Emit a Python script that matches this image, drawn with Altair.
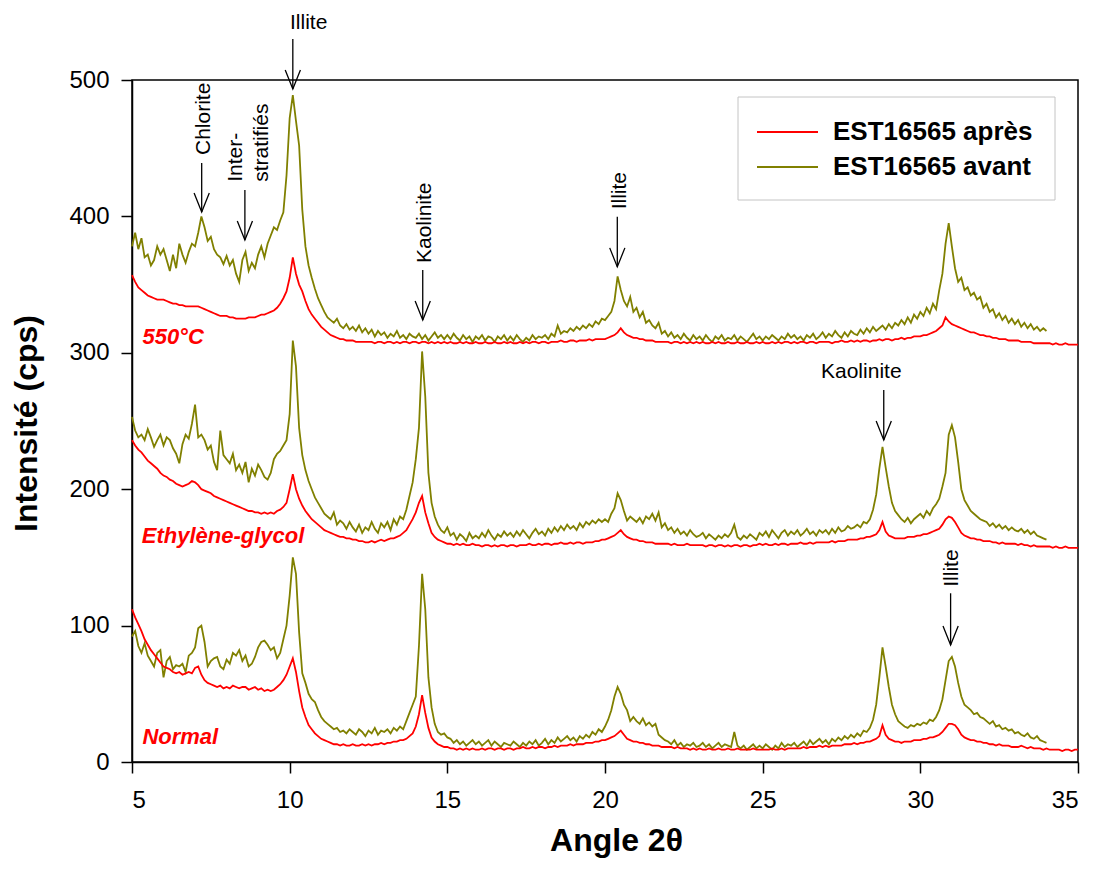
import altair as alt
import pandas as pd

# ---------------- data ----------------
X_START = 5.0
X_STEP = 0.1   # sampling step of the typed values below (one row = one degree)

SAMPLES = ["EST16565 après", "EST16565 avant"]
SAMPLE_COLORS = ["#FF0000", "#808000"]
TREATMENTS = ["Normal", "Ethylène-glycol", "550°C"]

apres_normal = [
    112, 106, 101, 96, 90, 86, 82, 79, 76, 73,
    70, 69, 68, 66, 65, 66, 64, 65, 66, 65,
    69, 70, 64, 60, 58, 57, 56, 55, 56, 54,
    55, 54, 56, 55, 54, 55, 55, 53, 54, 55,
    53, 54, 52, 53, 52, 53, 55, 57, 60, 64,
    70, 76, 66, 52, 40, 33, 27, 24, 21, 19,
    17, 16, 15, 14, 13, 13, 12, 13, 12, 12,
    13, 12, 12, 13, 12, 13, 12, 13, 13, 14,
    13, 14, 14, 15, 15, 16, 16, 17, 19, 21,
    26, 35, 49, 36, 25, 18, 15, 13, 12, 11,
    11, 10, 10, 9, 10, 9, 10, 9, 10, 9,
    9, 10, 9, 10, 10, 9, 10, 10, 9, 10,
    10, 9, 10, 10, 11, 10, 10, 11, 10, 11,
    11, 10, 11, 11, 12, 11, 12, 12, 12, 13,
    12, 13, 13, 13, 14, 14, 14, 15, 15, 16,
    16, 17, 18, 19, 21, 23, 20, 17, 16, 15,
    15, 14, 14, 13, 13, 12, 12, 12, 11, 11,
    11, 11, 10, 11, 10, 10, 10, 9, 10, 9,
    10, 9, 9, 10, 9, 9, 10, 9, 9, 10,
    9, 9, 10, 9, 9, 9, 9, 10, 9, 9,
    9, 9, 9, 10, 9, 9, 10, 9, 10, 10,
    10, 10, 10, 11, 10, 11, 11, 11, 12, 11,
    12, 11, 12, 12, 12, 12, 13, 13, 13, 14,
    13, 14, 14, 15, 15, 16, 17, 19, 27, 20,
    17, 16, 15, 15, 14, 15, 15, 15, 16, 16,
    16, 17, 17, 18, 18, 19, 20, 22, 25, 28,
    28, 27, 24, 20, 18, 17, 16, 16, 15, 15,
    14, 14, 13, 13, 12, 13, 12, 12, 12, 11,
    11, 11, 12, 11, 10, 11, 10, 10, 10, 9,
    10, 9, 9, 9, 9, 8, 9, 9, 8, 9,
    9,
]

avant_normal = [
    92, 96, 85, 80, 87, 78, 74, 70, 80, 82,
    62, 74, 77, 68, 71, 70, 72, 66, 78, 80,
    84, 98, 100, 88, 70, 74, 76, 77, 70, 68,
    75, 72, 80, 78, 82, 74, 78, 70, 72, 77,
    84, 88, 89, 86, 82, 84, 76, 80, 90, 100,
    122, 150, 138, 95, 65, 58, 50, 46, 44, 38,
    33, 30, 28, 26, 24, 25, 22, 23, 21, 24,
    22, 20, 24, 22, 19, 23, 21, 25, 20, 23,
    22, 24, 21, 25, 23, 26, 24, 30, 36, 42,
    48, 85, 138, 112, 62, 40, 28, 22, 20, 21,
    18, 17, 14, 16, 13, 15, 12, 14, 16, 13,
    15, 12, 14, 16, 12, 15, 13, 11, 14, 13,
    12, 15, 13, 11, 14, 12, 15, 13, 16, 12,
    14, 17, 13, 16, 14, 18, 15, 17, 19, 16,
    18, 15, 19, 17, 20, 18, 22, 20, 24, 22,
    26, 31, 38, 48, 55, 50, 42, 38, 30, 33,
    30, 28, 32, 27, 29, 26, 28, 20, 18, 16,
    15, 13, 16, 12, 14, 11, 13, 12, 14, 11,
    12, 14, 11, 13, 10, 12, 14, 11, 13, 12,
    11, 22, 12, 10, 12, 9, 11, 13, 10, 12,
    10, 13, 11, 9, 12, 10, 14, 11, 13, 12,
    14, 11, 13, 15, 12, 16, 13, 15, 17, 14,
    16, 13, 17, 15, 18, 16, 19, 17, 20, 18,
    21, 19, 23, 22, 25, 31, 42, 62, 84, 70,
    55, 42, 35, 30, 28, 26, 25, 27, 26, 28,
    27, 29, 28, 31, 30, 33, 38, 46, 60, 74,
    77, 70, 58, 48, 42, 40, 38, 35, 36, 33,
    32, 30, 28, 30, 26, 27, 24, 25, 23, 24,
    21, 22, 20, 19, 21, 18, 17, 19, 16, 15,
    14,
]

apres_glycol = [
    236, 232, 229, 227, 224, 221, 219, 217, 215, 212,
    210, 209, 207, 206, 204, 203, 202, 203, 204, 206,
    205, 203, 200, 199, 198, 197, 195, 194, 193, 192,
    191, 190, 189, 188, 187, 186, 185, 184, 184, 183,
    183, 182, 183, 182, 183, 182, 184, 185, 187, 190,
    200, 211, 200, 193, 188, 184, 181, 178, 176, 174,
    172, 170, 169, 168, 167, 166, 165, 165, 164, 164,
    163, 163, 162, 162, 161, 161, 162, 161, 162, 163,
    162, 163, 164, 164, 165, 166, 168, 170, 174, 178,
    183, 190, 195, 183, 175, 168, 165, 163, 162, 161,
    160, 160, 159, 160, 159, 160, 159, 159, 160, 159,
    159, 158, 159, 159, 158, 159, 158, 159, 159, 158,
    159, 159, 158, 159, 159, 159, 160, 159, 159, 160,
    159, 160, 160, 159, 160, 160, 161, 160, 160, 161,
    160, 161, 161, 160, 161, 161, 161, 162, 162, 163,
    163, 164, 165, 166, 168, 170, 167, 165, 164, 163,
    163, 162, 162, 161, 161, 161, 160, 160, 160, 160,
    160, 159, 160, 159, 159, 159, 160, 159, 159, 159,
    159, 159, 158, 159, 159, 158, 159, 159, 158, 159,
    158, 159, 159, 158, 159, 159, 158, 159, 159, 160,
    159, 160, 159, 159, 160, 159, 160, 160, 159, 160,
    160, 160, 161, 160, 160, 161, 160, 161, 161, 161,
    161, 161, 162, 161, 162, 162, 162, 163, 163, 163,
    163, 164, 164, 165, 165, 166, 167, 170, 176, 169,
    166, 165, 164, 164, 164, 164, 165, 165, 165, 166,
    166, 167, 167, 168, 169, 170, 171, 174, 178, 180,
    179, 176, 172, 168, 166, 165, 164, 164, 163, 163,
    162, 162, 162, 161, 161, 160, 161, 160, 160, 160,
    160, 159, 160, 159, 159, 158, 159, 158, 158, 158,
    158, 158, 157, 158, 157, 157, 158, 157, 157, 157,
    157,
]

avant_glycol = [
    253, 243, 238, 240, 236, 244, 238, 231, 236, 240,
    232, 238, 236, 230, 226, 219, 233, 240, 237, 248,
    262, 238, 240, 236, 229, 232, 220, 214, 243, 225,
    222, 219, 226, 214, 218, 212, 220, 205, 215, 210,
    218, 214, 209, 207, 212, 222, 226, 228, 232, 236,
    255, 309, 290, 245, 225, 214, 206, 200, 194, 190,
    186, 182, 180, 178, 183, 174, 177, 175, 171, 176,
    172, 169, 174, 168, 172, 170, 176, 171, 168, 175,
    172, 176, 170, 178, 174, 180, 178, 185, 195, 205,
    222, 245, 301, 268, 212, 190, 180, 174, 170, 168,
    172, 166, 168, 163, 167, 165, 162, 168, 164, 166,
    164, 168, 165, 170, 166, 163, 167, 165, 169, 166,
    168, 165, 169, 166, 170, 167, 164, 168, 171, 167,
    169, 166, 171, 168, 172, 169, 173, 170, 174, 171,
    173, 170, 175, 172, 176, 174, 177, 175, 178, 176,
    178, 176, 182, 186, 197, 192, 184, 177, 180, 178,
    176, 179, 175, 180, 178, 182, 177, 183, 172, 175,
    170, 172, 168, 171, 167, 169, 166, 170, 167, 165,
    166, 168, 164, 167, 165, 163, 166, 164, 167, 165,
    168, 174, 165, 163, 166, 164, 167, 165, 163, 168,
    166, 169, 165, 170, 167, 164, 168, 170, 166, 169,
    167, 170, 166, 168, 171, 167, 169, 166, 170, 168,
    170, 167, 171, 168, 172, 169, 170, 173, 171, 172,
    174, 172, 176, 175, 178, 185, 196, 215, 231, 216,
    202, 190, 184, 181, 178, 176, 179, 175, 178, 180,
    182, 179, 184, 181, 186, 189, 193, 202, 212, 240,
    247, 238, 220, 200, 192, 188, 184, 182, 180, 178,
    177, 176, 173, 175, 172, 174, 171, 173, 170, 172,
    170, 169, 171, 168, 170, 167, 169, 166, 165, 164,
    163,
]

apres_550 = [
    357, 352, 348, 346, 344, 342, 341, 340, 339, 339,
    339, 338, 337, 336, 336, 335, 335, 334, 334, 334,
    334, 334, 333, 332, 331, 330, 329, 328, 327, 327,
    327, 326, 326, 325, 325, 325, 325, 326, 326, 326,
    327, 328, 328, 329, 330, 331, 333, 336, 340, 345,
    355, 370, 358, 350, 345, 338, 332, 328, 325, 322,
    319, 317, 315, 313, 312, 311, 310, 310, 309, 309,
    309, 308, 308, 308, 308, 308, 308, 307, 308, 308,
    307, 308, 308, 307, 308, 307, 308, 308, 307, 308,
    308, 307, 308, 308, 307, 308, 307, 308, 307, 308,
    307, 308, 307, 307, 308, 307, 308, 307, 307, 308,
    307, 307, 308, 307, 307, 308, 307, 307, 308, 307,
    308, 307, 307, 308, 307, 308, 307, 308, 308, 307,
    308, 308, 307, 308, 308, 308, 309, 308, 308, 309,
    309, 308, 309, 309, 309, 310, 309, 310, 310, 310,
    310, 311, 312, 313, 315, 318, 315, 313, 312, 311,
    311, 310, 310, 309, 309, 309, 308, 308, 308, 308,
    308, 307, 308, 308, 307, 308, 307, 308, 307, 308,
    307, 308, 307, 307, 308, 307, 308, 307, 307, 308,
    307, 307, 308, 307, 307, 308, 307, 307, 308, 307,
    308, 307, 307, 308, 307, 308, 307, 308, 308, 307,
    308, 307, 308, 308, 307, 308, 308, 307, 308, 308,
    308, 308, 307, 308, 308, 309, 308, 308, 309, 308,
    309, 308, 309, 309, 308, 309, 309, 310, 309, 310,
    310, 309, 310, 310, 311, 310, 311, 311, 312, 312,
    312, 313, 313, 314, 315, 316, 318, 320, 326, 323,
    321, 320, 319, 318, 317, 316, 315, 315, 314, 313,
    313, 312, 312, 311, 311, 310, 310, 310, 309, 309,
    309, 309, 308, 308, 308, 308, 307, 307, 307, 307,
    307, 307, 306, 307, 306, 306, 307, 306, 306, 306,
    306,
]

avant_550 = [
    378, 388, 376, 384, 370, 372, 364, 368, 378, 372,
    376, 368, 360, 372, 362, 380, 372, 366, 374, 380,
    378, 388, 400, 392, 382, 385, 376, 372, 370, 365,
    371, 364, 368, 358, 352, 368, 374, 360, 366, 362,
    372, 378, 370, 380, 386, 392, 390, 397, 403, 430,
    472, 489, 470, 452, 405, 378, 364, 355, 347, 340,
    335, 330, 326, 324, 322, 325, 320, 318, 321, 317,
    319, 316, 320, 315, 318, 314, 317, 312, 316, 313,
    315, 311, 314, 312, 316, 311, 313, 310, 314, 312,
    311, 314, 310, 313, 309, 312, 315, 311, 313, 310,
    313, 310, 314, 311, 309, 313, 310, 312, 308, 312,
    310, 313, 309, 312, 311, 308, 312, 310, 313, 309,
    312, 309, 313, 310, 308, 311, 309, 313, 310, 312,
    311, 313, 310, 314, 312, 320, 314, 316, 315, 318,
    316, 319, 317, 320, 318, 321, 319, 323, 321, 325,
    324, 327, 330, 338, 356, 346, 338, 334, 341, 330,
    333, 326, 330, 322, 324, 320, 318, 322, 314, 316,
    312, 315, 311, 313, 310, 314, 311, 309, 313, 310,
    312, 309, 313, 310, 308, 312, 310, 313, 309, 311,
    310, 313, 309, 312, 310, 308, 311, 314, 310, 312,
    309, 312, 310, 313, 311, 309, 312, 310, 314, 311,
    313, 310, 312, 309, 313, 311, 314, 310, 312, 315,
    311, 314, 312, 316, 313, 311, 315, 312, 316, 314,
    313, 317, 314, 318, 315, 319, 316, 318, 320, 317,
    321, 318, 322, 320, 324, 321, 326, 322, 328, 325,
    330, 327, 333, 329, 336, 332, 346, 358, 380, 395,
    378, 362, 352, 355, 346, 348, 342, 344, 339, 341,
    333, 336, 330, 332, 326, 329, 324, 327, 322, 325,
    321, 324, 319, 322, 318, 321, 317, 319, 316, 318,
    316,
]

# treatment labels (data coordinates)
TREAT_LABEL_X = [5.33, 5.31, 5.33]
TREAT_LABEL_Y = [13.2, 160.6, 306.5]

# mineral annotations
ANN_H_TEXT = ["Illite", "Kaolinite"]
ANN_H_X = [10.01, 26.85]
ANN_H_Y = [537.2, 281.5]

ANN_V_TEXT = ["Chlorite", "Inter-", "stratifiés", "Kaolinite", "Illite", "Illite"]
ANN_V_X = [7.28, 8.31, 9.12, 14.29, 20.49, 31.02]
ANN_V_Y = [445.0, 425.4, 425.4, 365.8, 405.2, 128.5]

ARROW_X = [10.10, 7.21, 8.58, 14.22, 20.39, 28.84, 30.96]
ARROW_TOP = [530.1, 439.1, 419.4, 360.7, 399.8, 272.7, 123.7]
ARROW_TIP = [493.4, 403.2, 382.7, 324.0, 363.0, 236.0, 85.8]

X_TICKS = [5, 10, 15, 20, 25, 30, 35]
Y_TICKS = [0, 100, 200, 300, 400, 500]

X_TITLE = "Angle 2θ"
Y_TITLE = "Intensité (cps)"

# ---------------- build tables ----------------
series = [
    (SAMPLES[0], TREATMENTS[0], apres_normal),
    (SAMPLES[0], TREATMENTS[1], apres_glycol),
    (SAMPLES[0], TREATMENTS[2], apres_550),
    (SAMPLES[1], TREATMENTS[0], avant_normal),
    (SAMPLES[1], TREATMENTS[1], avant_glycol),
    (SAMPLES[1], TREATMENTS[2], avant_550),
]
rows = []
for sample, treat, ys in series:
    for i, v in enumerate(ys):
        rows.append({"x": round(X_START + i * X_STEP, 2), "y": v,
                     "sample": sample, "treatment": treat})
df = pd.DataFrame(rows)

treat_df = pd.DataFrame({"x": TREAT_LABEL_X, "y": TREAT_LABEL_Y, "t": TREATMENTS})
annh_df = pd.DataFrame({"x": ANN_H_X, "y": ANN_H_Y, "t": ANN_H_TEXT})
annv_df = pd.DataFrame({"x": ANN_V_X, "y": ANN_V_Y, "t": ANN_V_TEXT})
arrow_df = pd.DataFrame({"x": ARROW_X, "y": ARROW_TOP, "y2": ARROW_TIP})

FONT = "Liberation Sans"

xscale = alt.Scale(domain=[5, 35], nice=False, zero=False)
yscale = alt.Scale(domain=[0, 500], nice=False)
cscale = alt.Scale(domain=SAMPLES, range=SAMPLE_COLORS)

x_axis = alt.Axis(values=X_TICKS, format="d", grid=False, labelFont=FONT,
                  labelFontSize=24, labelColor="black", labelPadding=15,
                  tickColor="black", tickSize=11, tickWidth=1.5,
                  domainColor="black", domainWidth=1.5,
                  titleFont=FONT, titleFontSize=32, titleFontWeight="bold",
                  titleColor="black", titleX=484, titleY=88,
                  titleAlign="center", titleBaseline="alphabetic")
y_axis = alt.Axis(values=Y_TICKS, format="d", grid=False, labelFont=FONT,
                  labelFontSize=24, labelColor="black", labelPadding=12,
                  tickColor="black", tickSize=11, tickWidth=1.5,
                  domainColor="black", domainWidth=1.5,
                  titleFont=FONT, titleFontSize=32, titleFontWeight="bold",
                  titleColor="black", titleAngle=270, titleX=-96, titleY=343,
                  titleAlign="center", titleBaseline="alphabetic")


def X(field="x"):
    return alt.X(f"{field}:Q", scale=xscale, axis=x_axis, title=X_TITLE)


def Y(field="y"):
    return alt.Y(f"{field}:Q", scale=yscale, axis=y_axis, title=Y_TITLE)


def line_layer(sample):
    return alt.Chart(df[df["sample"] == sample]).mark_line(strokeWidth=1.8).encode(
        x=X(), y=Y(),
        color=alt.Color("sample:N", scale=cscale, legend=None),
        detail="treatment:N",
    )


olive_lines = line_layer(SAMPLES[1])
red_lines = line_layer(SAMPLES[0])

treat_text = alt.Chart(treat_df).mark_text(
    font=FONT, fontSize=22, fontWeight="bold", fontStyle="italic",
    color="#FF0000", align="left", baseline="alphabetic").encode(
    x=X(), y=Y(), text="t:N")

annh_text = alt.Chart(annh_df).mark_text(
    font=FONT, fontSize=21, color="black", align="left",
    baseline="alphabetic").encode(
    x=X(), y=Y(), text="t:N")

annv_text = alt.Chart(annv_df).mark_text(
    font=FONT, fontSize=21, color="black", align="left",
    baseline="middle", angle=270).encode(
    x=X(), y=Y(), text="t:N")

arrow_shaft = alt.Chart(arrow_df).mark_rule(color="black", strokeWidth=1.3).encode(
    x=X(), y=Y(), y2="y2:Q")

arrow_head = alt.Chart(arrow_df).mark_point(
    shape="M-0.4,-1L0,0L0.4,-1", filled=False, color="black",
    strokeWidth=1.3, size=1444, opacity=1).encode(
    x=X(), y=Y("y2"))

# legend (drawn box in the upper right of the plot area)
LEG_BOX = (606, 923, 17, 120)
LEG_SYM_X = (625, 686)
LEG_ROW_Y = [52, 87]
LEG_LABEL_X = 701

legend_layers = [
    alt.Chart(pd.DataFrame({"k": [0]})).mark_rect(
        fill="white", stroke="#c4c4c4", strokeWidth=1).encode(
        x=alt.value(LEG_BOX[0]), x2=alt.value(LEG_BOX[1]),
        y=alt.value(LEG_BOX[2]), y2=alt.value(LEG_BOX[3]))
]
for name, col, ry in zip(SAMPLES, SAMPLE_COLORS, LEG_ROW_Y):
    legend_layers.append(
        alt.Chart(pd.DataFrame({"k": [0]})).mark_rule(color=col, strokeWidth=2).encode(
            x=alt.value(LEG_SYM_X[0]), x2=alt.value(LEG_SYM_X[1]), y=alt.value(ry)))
    legend_layers.append(
        alt.Chart(pd.DataFrame({"label": [name]})).mark_text(
            font=FONT, fontSize=26, fontWeight="bold", color="black",
            align="left", baseline="middle").encode(
            x=alt.value(LEG_LABEL_X), y=alt.value(ry), text="label:N"))

chart = alt.layer(
    olive_lines, red_lines, treat_text, annh_text, annv_text,
    arrow_shaft, arrow_head, *legend_layers
).properties(
    width=946, height=682,
    padding={"left": 124, "top": 72, "right": 7, "bottom": 100},
    autosize=alt.AutoSizeParams(type="none"),
    background="white",
).configure(
    font=FONT,
    view=alt.ViewConfig(stroke="black", strokeWidth=1.5),
)

chart.save("out.html", embed_options={"renderer": "svg", "actions": False})
